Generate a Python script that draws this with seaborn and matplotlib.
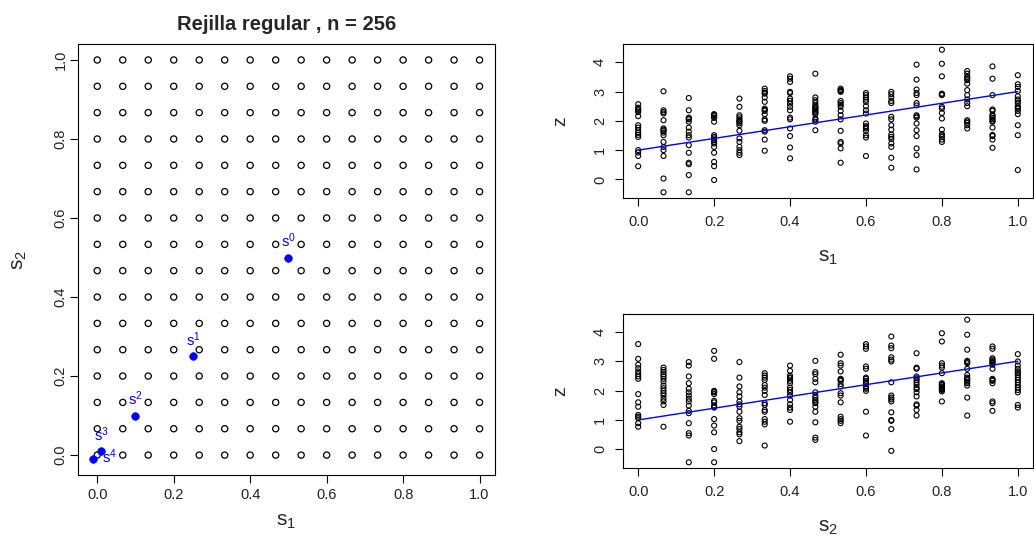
import numpy as np
import pandas as pd
import matplotlib
matplotlib.use("Agg")
import matplotlib.pyplot as plt
import seaborn as sns

# ---------------- data ----------------
grid = [0.0, 0.0667, 0.1333, 0.2, 0.2667, 0.3333, 0.4, 0.4667,
        0.5333, 0.6, 0.6667, 0.7333, 0.8, 0.8667, 0.9333, 1.0]

title = "Rejilla regular , n = 256"

pts_x = [0.5, 0.25, 0.1, 0.01, -0.01]
pts_y = [0.5, 0.25, 0.1, 0.01, -0.01]
pt_labels = ["0", "1", "2", "3", "4"]

line_s = [0.0, 1.0]
line_z = [1.0, 3.0]

z_by_s1 = [
    [2.57, 2.45, 2.36, 2.30, 2.16, 1.85, 1.77, 1.68, 1.59, 1.52, 1.45, 1.0, 0.92, 0.80, 0.45, 2.40],
    [3.01, 2.36, 2.30, 2.25, 2.02, 1.74, 1.66, 1.60, 1.51, 1.28, 1.11, 1.0, 0.80, 0.03, -0.44, 1.70],
    [2.78, 2.36, 2.11, 2.05, 1.97, 1.77, 1.63, 1.51, 1.43, 1.17, 0.91, 0.57, 0.52, 0.15, -0.44, 2.08],
    [2.23, 2.16, 2.20, 1.97, 1.51, 1.45, 1.40, 1.34, 1.23, 1.11, 0.91, 0.60, 0.45, -0.02, 1.28, 2.10],
    [2.76, 2.48, 2.19, 2.05, 1.97, 1.85, 1.66, 1.40, 1.28, 1.11, 1.0, 0.91, 0.83, 2.12, 2.00, 1.92],
    [3.10, 3.02, 2.93, 2.80, 2.65, 2.42, 2.34, 2.23, 2.05, 2.0, 1.68, 1.63, 1.36, 0.98, 2.38, 2.96],
    [3.52, 3.44, 3.33, 2.99, 2.95, 2.76, 2.68, 2.59, 2.48, 2.36, 2.11, 2.05, 1.74, 1.48, 1.09, 0.72],
    [3.61, 2.80, 2.70, 2.61, 2.48, 2.39, 2.31, 2.23, 2.08, 1.97, 1.68, 2.27, 2.43, 2.52, 2.35, 2.04],
    [3.10, 3.05, 2.99, 2.68, 2.61, 2.48, 2.34, 2.19, 2.05, 1.66, 1.28, 1.23, 1.06, 0.57, 2.55, 3.02],
    [2.95, 2.80, 2.65, 2.50, 2.36, 2.25, 1.91, 1.82, 1.74, 1.66, 1.51, 1.43, 0.80, 2.88, 2.72, 1.78],
    [2.99, 2.91, 2.80, 2.68, 2.61, 2.14, 2.05, 1.85, 1.70, 1.53, 1.45, 1.38, 1.23, 1.11, 0.74, 0.40],
    [3.92, 3.41, 3.07, 2.95, 2.88, 2.61, 2.53, 2.19, 2.11, 1.91, 1.68, 1.48, 1.06, 0.83, 0.34, 2.15],
    [4.43, 3.95, 3.52, 2.93, 2.88, 2.48, 2.42, 2.27, 2.08, 1.70, 1.55, 1.45, 1.36, 1.28, 2.90, 1.50],
    [3.70, 3.61, 3.50, 3.39, 3.27, 3.05, 2.88, 2.73, 2.61, 2.50, 2.02, 1.93, 1.85, 1.74, 3.45, 1.98],
    [3.86, 3.44, 2.88, 2.39, 2.34, 2.16, 2.05, 1.97, 1.77, 1.48, 1.36, 1.08, 2.20, 2.10, 2.00, 1.52],
    [3.56, 3.25, 3.16, 3.02, 2.84, 2.73, 2.61, 2.50, 2.42, 2.34, 2.23, 1.85, 1.51, 0.32, 2.68, 2.46],
]

z_by_s2 = [
    [3.58, 3.08, 2.88, 2.76, 2.65, 2.56, 2.48, 2.40, 1.88, 1.60, 1.45, 1.17, 1.11, 1.06, 0.89, 0.77],
    [2.78, 2.70, 2.63, 2.48, 2.40, 2.31, 2.17, 2.08, 1.99, 1.91, 1.83, 1.72, 1.63, 1.51, 0.77, 2.55],
    [2.97, 2.85, 2.48, 2.25, 2.06, 1.94, 1.83, 1.72, 1.63, 1.49, 1.31, 1.23, 0.89, 0.55, 0.47, -0.44],
    [3.35, 3.08, 1.99, 1.94, 1.88, 1.65, 1.49, 1.42, 1.03, 0.81, 0.58, 0.01, -0.44, 1.96, 1.60, 1.45],
    [2.97, 2.44, 2.14, 1.94, 1.80, 1.63, 1.53, 1.45, 1.28, 1.06, 0.97, 0.77, 0.69, 0.58, 0.51, 0.28],
    [2.59, 2.51, 2.44, 2.36, 2.19, 2.10, 1.99, 1.85, 1.57, 1.51, 1.34, 1.28, 1.03, 0.94, 0.85, 0.13],
    [2.85, 2.67, 2.51, 2.42, 2.33, 2.25, 2.10, 2.02, 1.94, 1.83, 1.68, 1.53, 1.42, 1.34, 0.94, 2.45],
    [3.01, 2.63, 2.56, 2.40, 2.28, 1.94, 1.83, 1.68, 1.57, 1.45, 1.28, 0.92, 0.40, 0.32, 1.75, 1.62],
    [3.22, 2.93, 2.85, 2.65, 2.40, 2.33, 2.22, 2.14, 1.91, 1.83, 1.60, 1.11, 1.03, 0.97, 0.89, 2.37],
    [3.58, 3.50, 3.42, 2.82, 2.74, 2.44, 2.33, 2.22, 2.14, 2.06, 1.99, 1.28, 0.47, 2.40, 2.27, 2.10],
    [3.84, 3.53, 3.44, 3.13, 3.05, 2.99, 2.28, 1.83, 1.76, 1.63, 1.26, 1.00, 0.97, 0.69, -0.05, 1.70],
    [3.27, 2.78, 2.74, 2.48, 2.36, 2.28, 2.19, 2.10, 1.94, 1.80, 1.53, 1.49, 1.34, 1.15, 2.42, 2.05],
    [3.95, 3.67, 2.93, 2.85, 2.78, 2.59, 2.25, 2.19, 2.14, 2.08, 2.02, 1.97, 1.63, 2.22, 2.11, 2.05],
    [4.41, 3.90, 3.39, 3.01, 2.93, 2.74, 2.53, 2.44, 2.36, 2.25, 2.17, 1.76, 1.15, 2.30, 2.40, 2.97],
    [3.50, 3.42, 3.10, 3.05, 2.97, 2.88, 2.74, 2.40, 2.33, 2.25, 1.63, 1.57, 1.31, 2.93, 2.36, 3.00],
    [3.24, 2.99, 2.85, 2.74, 2.65, 2.53, 2.44, 2.36, 2.28, 2.19, 2.10, 2.02, 1.94, 1.51, 1.42, 2.60],
]

# ---------------- style ----------------
sns.set_theme(style="ticks")
plt.rcParams["font.family"] = ["Liberation Sans", "DejaVu Sans"]
plt.rcParams["mathtext.fontset"] = "custom"
plt.rcParams["mathtext.rm"] = "Liberation Sans"
plt.rcParams["axes.linewidth"] = 0.8
plt.rcParams["axes.edgecolor"] = "black"

BLUE = "#0000FF"
W, H = 1034, 536
fig = plt.figure(figsize=(W / 100, H / 100), dpi=100)


def px_axes(x0, y0, x1, y1):
    return fig.add_axes([x0 / W, 1 - y1 / H, (x1 - x0) / W, (y1 - y0) / H])


def r_lim(vals):
    lo, hi = min(vals), max(vals)
    pad = 0.04 * (hi - lo)
    return lo - pad, hi + pad


def style_axes(ax, yticks, yfmt, xpad, ypad):
    for sp in ax.spines.values():
        sp.set_visible(True)
        sp.set_color("black")
        sp.set_linewidth(0.8)
    ax.tick_params(axis="both", direction="out", length=5.5, width=0.8,
                   color="black", labelcolor="#222222", labelsize=10.5)
    ax.tick_params(axis="x", pad=xpad)
    ax.tick_params(axis="y", pad=ypad)
    ax.set_xticks([0.0, 0.2, 0.4, 0.6, 0.8, 1.0])
    ax.set_xticklabels([f"{v:.1f}" for v in [0.0, 0.2, 0.4, 0.6, 0.8, 1.0]])
    ax.set_yticks(yticks)
    ax.set_yticklabels([yfmt.format(v) for v in yticks], rotation=90, va="center")
    ax.grid(False)


# ---------------- left panel: regular grid ----------------
ax0 = px_axes(78, 44, 495, 475)
grid_df = pd.DataFrame([(a, b) for a in grid for b in grid], columns=["s1", "s2"])
sns.scatterplot(data=grid_df, x="s1", y="s2", ax=ax0, marker="o", s=20,
                facecolor="none", edgecolor="black", linewidth=0.9, legend=False)
pts_df = pd.DataFrame({"s1": pts_x, "s2": pts_y, "lab": pt_labels})
sns.scatterplot(data=pts_df, x="s1", y="s2", ax=ax0, marker="o", s=30,
                color=BLUE, edgecolor=BLUE, linewidth=0.5, legend=False, zorder=3)
for i, row in pts_df.iterrows():
    lab = r"$\mathregular{s^{" + row["lab"] + r"}}$"
    if i < 4:
        ax0.annotate(lab, (row["s1"], row["s2"]), xytext=(0, 7.5),
                     textcoords="offset points", ha="center", va="baseline",
                     color=BLUE, fontsize=10.5)
    else:
        ax0.annotate(lab, (row["s1"], row["s2"]), xytext=(6.5, -2.5),
                     textcoords="offset points", ha="left", va="baseline",
                     color=BLUE, fontsize=10.5)
ax0.set_xlim(r_lim(grid + pts_x))
ax0.set_ylim(r_lim(grid + pts_y))
style_axes(ax0, [0.0, 0.2, 0.4, 0.6, 0.8, 1.0], "{:.1f}", xpad=4, ypad=2)
ax0.set_title(title, fontsize=14.5, fontweight="bold", pad=10)
ax0.set_xlabel(r"$\mathregular{s_1}$", fontsize=15)
ax0.set_ylabel(r"$\mathregular{s_2}$", fontsize=15)
ax0.xaxis.set_label_coords(0.5, -0.109)
ax0.xaxis.label.set_va("center")
ax0.yaxis.set_label_coords(-0.14, 0.5)
ax0.yaxis.label.set_va("center")


# ---------------- right panels ----------------
def long_df(cols, name):
    rows = []
    for s, zs in zip(grid, cols):
        for z in zs:
            rows.append((s, z))
    return pd.DataFrame(rows, columns=[name, "z"])


panels = [
    (px_axes(623, 44, 1033, 198), long_df(z_by_s1, "s1"), "s1", r"$\mathregular{s_1}$"),
    (px_axes(623, 314, 1033, 468), long_df(z_by_s2, "s2"), "s2", r"$\mathregular{s_2}$"),
]
for ax, df, name, xlabel in panels:
    sns.scatterplot(data=df, x=name, y="z", ax=ax, marker="o", s=13,
                    facecolor="none", edgecolor="black", linewidth=0.8, legend=False)
    line_df = pd.DataFrame({name: line_s, "z": line_z})
    sns.lineplot(data=line_df, x=name, y="z", ax=ax, color=BLUE, linewidth=1.0,
                 legend=False, zorder=3)
    ax.set_xlim(r_lim(grid))
    ax.set_ylim(r_lim(list(df["z"])))
    style_axes(ax, [0, 1, 2, 3, 4], "{:d}", xpad=7, ypad=6)
    ax.set_xlabel(xlabel, fontsize=15)
    ax.set_ylabel("z", fontsize=14)
    ax.xaxis.set_label_coords(0.5, -0.385)
    ax.xaxis.label.set_va("center")
    ax.yaxis.set_label_coords(-0.152, 0.5)
    ax.yaxis.label.set_va("center")

fig.savefig("out.png", dpi=100, facecolor="white")
